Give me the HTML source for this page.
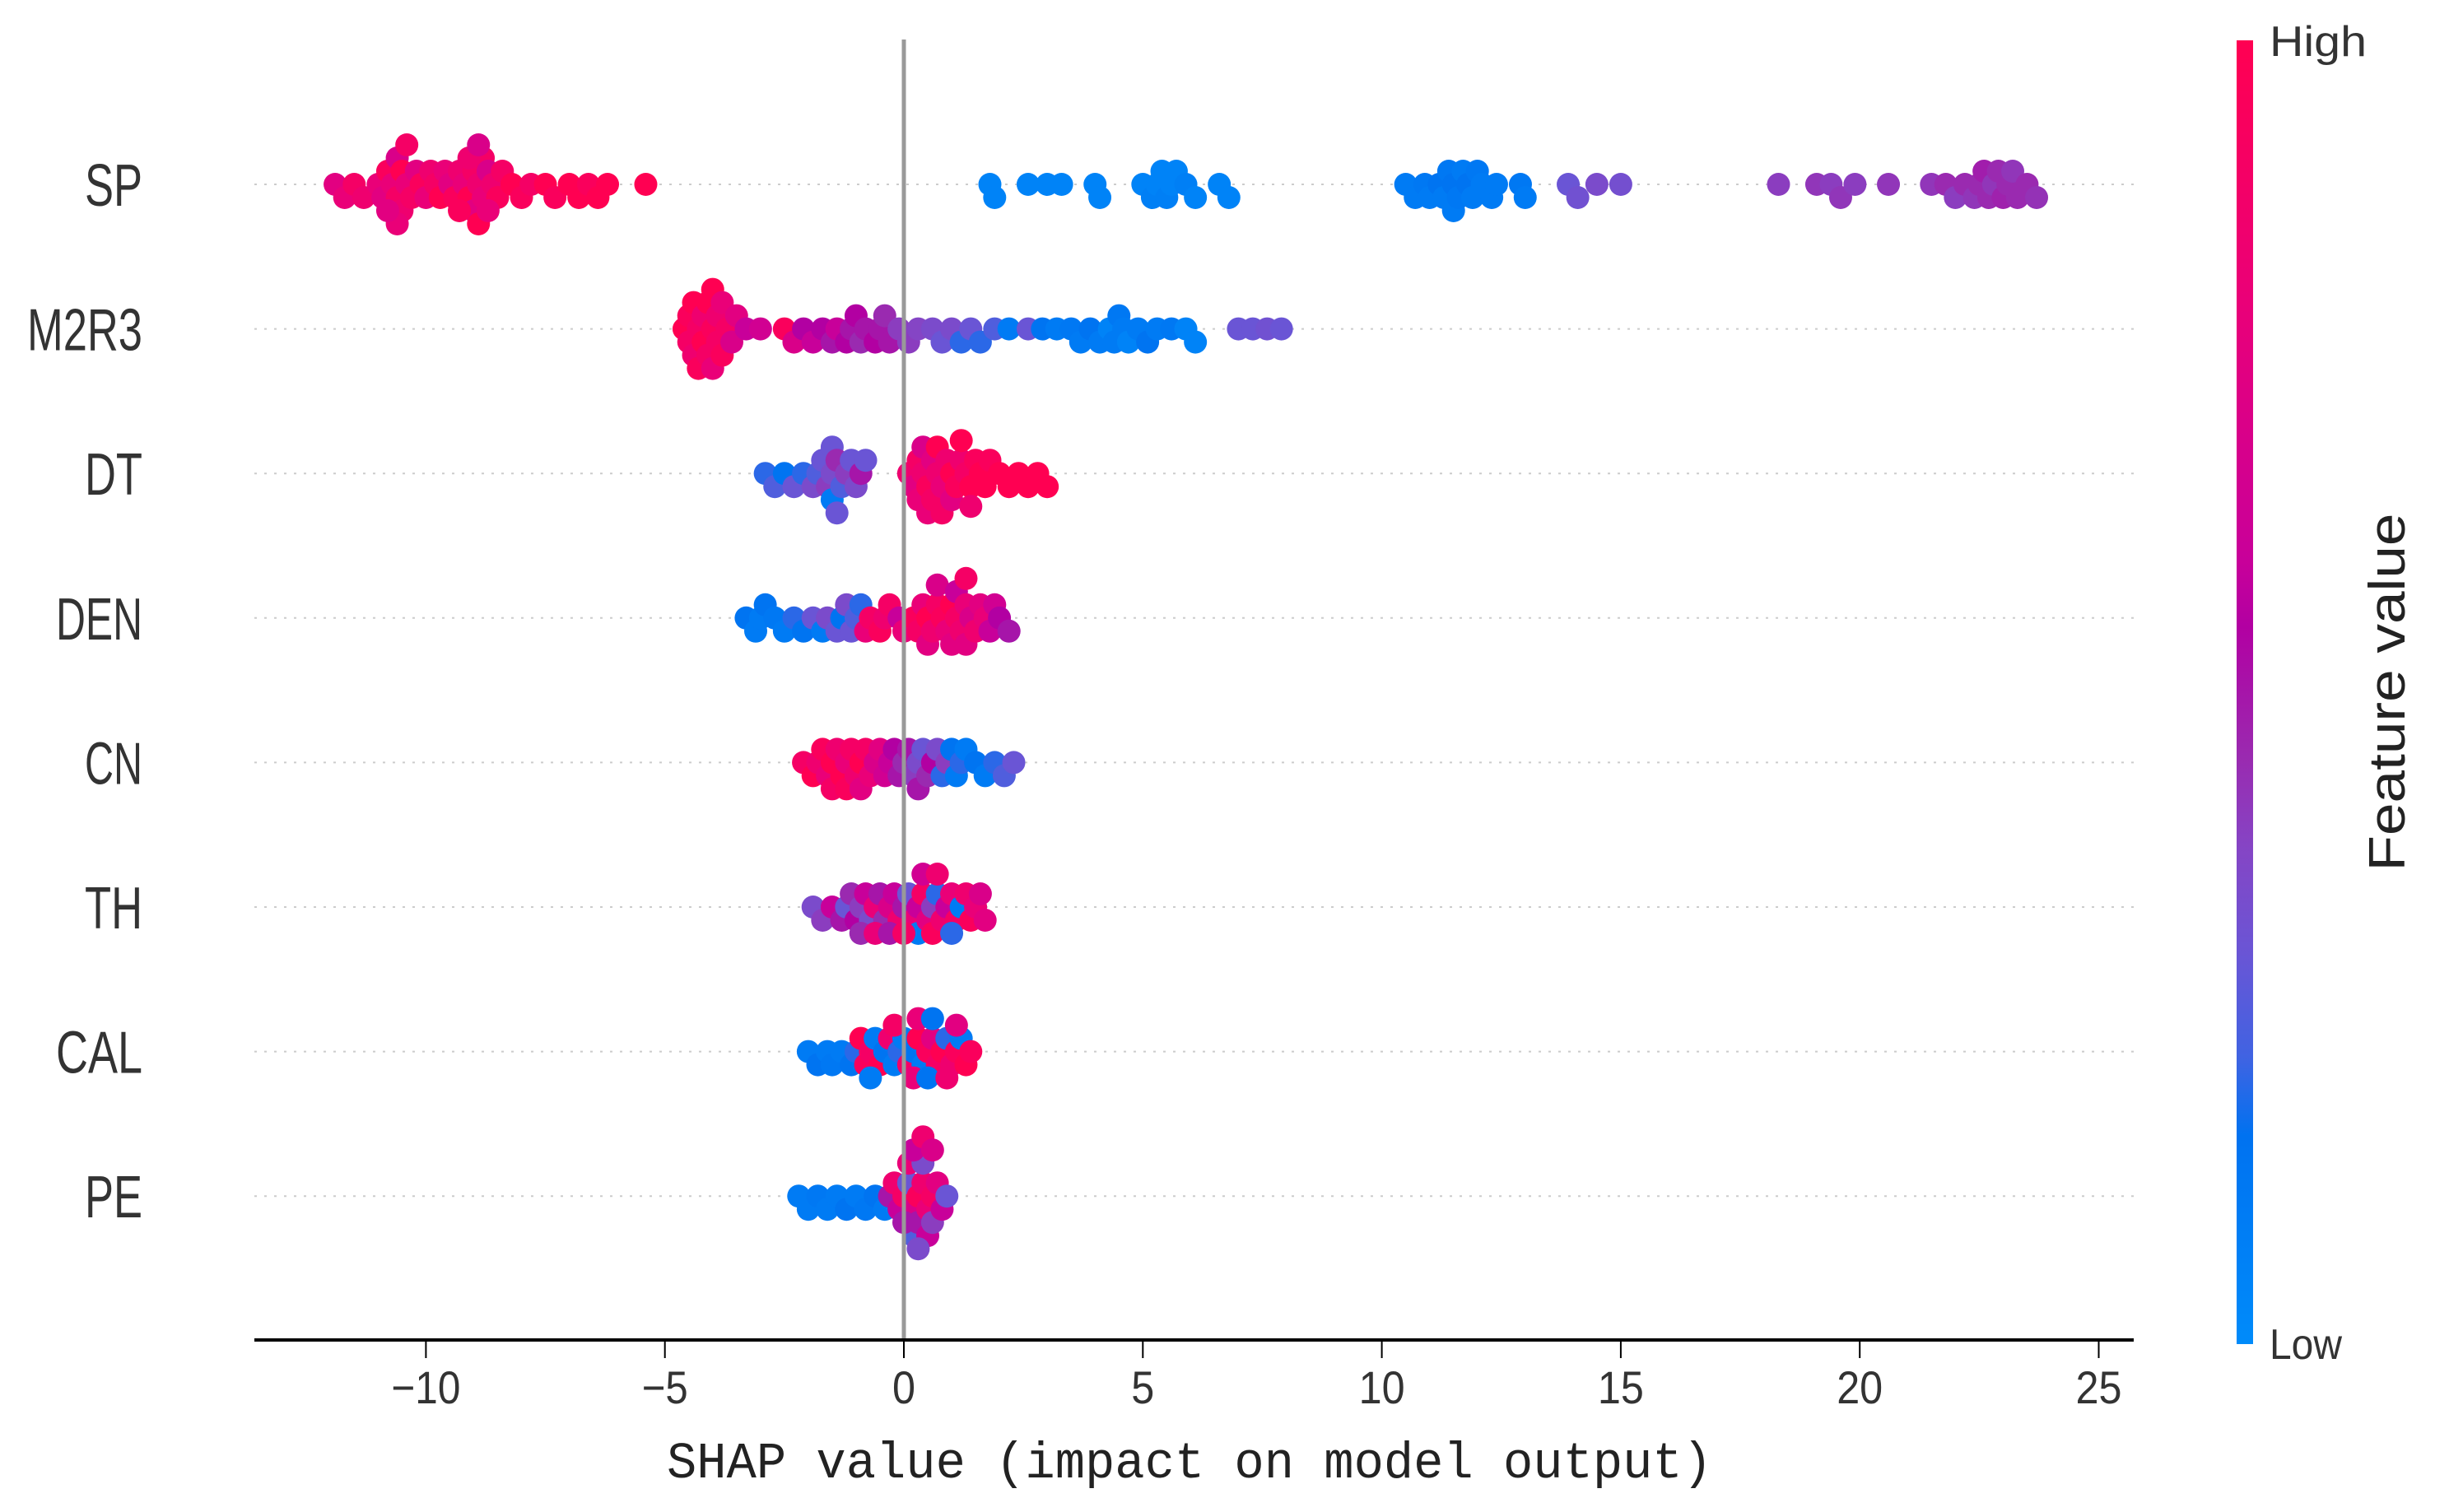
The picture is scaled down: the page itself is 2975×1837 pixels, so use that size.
<!DOCTYPE html>
<html><head><meta charset="utf-8"><style>
html,body{margin:0;padding:0;background:#fff;}
svg{display:block;}
</style></head><body>
<svg id="chart" width="2975" height="1837" viewBox="0 0 2975 1837" xmlns="http://www.w3.org/2000/svg">
<defs>
<linearGradient id="cbar" x1="0" y1="0" x2="0" y2="1">
<stop offset="0" stop-color="#ff0052"/><stop offset="0.2" stop-color="#ea0078"/><stop offset="0.4" stop-color="#c8009a"/><stop offset="0.45" stop-color="#b200a2"/><stop offset="0.55" stop-color="#9a2ab0"/><stop offset="0.62" stop-color="#8545c5"/><stop offset="0.7" stop-color="#6a55d5"/><stop offset="0.78" stop-color="#4063e2"/><stop offset="0.84" stop-color="#0072f0"/><stop offset="1" stop-color="#008bfa"/>
</linearGradient>
</defs>
<g id="grid"></g>
<g id="dots"></g>
<g id="axes"></g>
</svg>
<script>
const features = ["SP","M2R3","DT","DEN","CN","TH","CAL","PE"];
const xTicks = [-10,-5,0,5,10,15,20,25];

const spShap = [-11.9,-11.7,-11.5,-11.3,-11.0,-10.9,-10.8,-10.7,-10.6,-10.6,-10.5,-10.5,-10.4,-10.3,-10.2,-10.1,-10.0,-9.9,-9.8,-9.7,-9.6,-9.5,-9.4,-9.3,-9.2,-9.1,-9.0,-9.0,-8.9,-8.9,-8.8,-8.8,-8.7,-8.6,-8.5,-8.4,-8.2,-8.0,-7.8,-7.5,-7.3,-7.0,-6.8,-6.6,-6.4,-6.2,-5.4,
-10.6,-10.4,-10.8,-9.1,-8.9,-9.3,-8.7,
1.8,1.9,2.6,3.0,3.3,4.0,4.1,5.0,5.2,5.3,5.4,5.5,5.6,5.7,5.9,6.1,6.6,6.8,
10.5,10.7,10.9,11.0,11.2,11.3,11.4,11.5,11.5,11.6,11.7,11.8,11.9,12.0,12.1,12.3,12.4,12.9,13.0,
13.9,14.1,14.5,15.0,18.3,19.1,19.4,19.6,19.9,20.6,
21.5,21.8,22.0,22.2,22.4,22.5,22.6,22.7,22.8,22.9,23.0,23.1,23.2,23.3,23.5,23.7];
const spVal = [0.75,0.8,0.9,0.85,0.8,0.75,0.95,0.8,0.9,0.7,1.0,0.85,0.8,0.9,0.75,0.95,0.8,0.85,0.9,1.0,0.8,0.75,0.95,0.85,0.8,1.0,0.9,0.75,0.85,1.0,0.8,0.9,0.7,0.85,0.95,0.9,1.0,0.95,0.9,1.0,0.95,1.0,1.0,0.95,1.0,1.0,1.0,
0.8,0.9,0.75,0.85,0.7,0.95,0.8,
0.05,0.05,0.05,0.05,0.05,0.05,0.05,0.05,0.08,0.05,0.05,0.08,0.05,0.05,0.08,0.05,0.05,0.05,
0.1,0.1,0.12,0.1,0.15,0.1,0.12,0.15,0.1,0.12,0.1,0.15,0.1,0.12,0.1,0.1,0.1,0.12,0.1,
0.3,0.32,0.35,0.33,0.4,0.42,0.4,0.42,0.4,0.42,
0.42,0.45,0.4,0.45,0.42,0.45,0.48,0.45,0.42,0.45,0.47,0.45,0.42,0.45,0.45,0.43];

const m2r3Shap = [-4.6,-4.5,-4.5,-4.4,-4.4,-4.3,-4.3,-4.2,-4.2,-4.1,-4.1,-4.0,-4.0,-4.0,-3.9,-3.9,-3.8,-3.8,-3.7,-3.6,-3.5,-3.3,-3.0,
-2.5,-2.3,-2.1,-1.9,-1.7,-1.5,-1.4,-1.2,-1.1,-1.0,-0.9,-0.8,-0.6,-0.5,-0.4,-0.3,-0.1,0.1,0.3,0.6,0.8,1.0,1.2,1.4,1.6,1.9,2.2,2.6,2.9,
3.2,3.5,3.7,3.9,4.1,4.3,4.4,4.5,4.6,4.7,4.9,5.1,5.3,5.6,5.9,6.1,7.0,7.3,7.6,7.9];
const m2r3Val = [1.0,0.9,0.95,0.85,1.0,0.9,0.95,1.0,0.85,0.9,1.0,0.95,0.8,1.0,0.9,0.85,0.95,0.8,0.9,0.7,0.75,0.6,0.65,
0.95,0.7,0.55,0.6,0.55,0.5,0.6,0.55,0.5,0.55,0.45,0.5,0.55,0.5,0.45,0.5,0.4,0.4,0.38,0.35,0.3,0.35,0.2,0.3,0.2,0.25,0.1,0.3,0.15,
0.1,0.12,0.1,0.15,0.1,0.05,0.1,0.12,0.1,0.05,0.1,0.15,0.1,0.12,0.05,0.05,0.3,0.3,0.32,0.3];

const dtShap = [-2.9,-2.7,-2.5,-2.3,-2.1,-1.9,-1.8,-1.7,-1.6,-1.5,-1.5,-1.5,-1.4,-1.4,-1.3,-1.2,-1.1,-1.0,-0.9,-0.8,
0.1,0.2,0.3,0.3,0.4,0.4,0.5,0.5,0.6,0.6,0.7,0.7,0.8,0.8,0.9,1.0,1.0,1.1,1.2,1.2,1.3,1.4,1.4,1.5,1.6,1.7,1.8,2.0,2.2,2.4,2.6,2.8,3.0];
const dtVal = [0.2,0.25,0.15,0.3,0.2,0.35,0.25,0.3,0.4,0.35,0.1,0.3,0.45,0.3,0.25,0.4,0.3,0.35,0.5,0.3,
0.85,0.75,0.9,0.8,0.85,0.7,0.95,0.8,0.75,0.9,0.85,1.0,0.8,0.9,0.85,1.0,0.75,0.95,0.85,1.0,0.9,1.0,0.85,0.95,1.0,1.0,0.95,1.0,1.0,1.0,1.0,1.0,1.0];

const denShap = [-3.3,-3.1,-3.0,-2.9,-2.7,-2.5,-2.3,-2.1,-1.9,-1.7,-1.6,-1.4,-1.3,-1.2,-1.1,-1.0,-0.9,-0.8,-0.7,-0.5,-0.4,-0.3,-0.1,0.0,
0.2,0.3,0.4,0.5,0.5,0.6,0.7,0.7,0.8,0.9,1.0,1.0,1.1,1.1,1.2,1.3,1.3,1.3,1.4,1.5,1.6,1.7,1.8,1.9,2.0,2.2];
const denVal = [0.15,0.1,0.1,0.15,0.12,0.1,0.2,0.15,0.3,0.1,0.35,0.3,0.15,0.35,0.3,0.25,0.2,0.8,0.9,0.95,0.85,0.9,0.6,0.8,
0.95,0.9,0.8,1.0,0.75,0.85,0.9,0.7,0.95,0.8,1.0,0.75,0.9,0.6,0.85,0.8,0.75,0.9,0.7,0.85,0.75,0.8,0.6,0.65,0.55,0.5];

const cnShap = [-2.1,-1.9,-1.8,-1.7,-1.6,-1.5,-1.5,-1.4,-1.3,-1.2,-1.2,-1.1,-1.0,-0.9,-0.9,-0.8,-0.7,-0.6,-0.5,-0.4,-0.3,
-0.2,-0.1,0.0,0.1,0.2,0.3,0.3,0.4,0.5,0.6,0.7,0.8,0.9,
1.0,1.1,1.2,1.3,1.5,1.7,1.9,2.1,2.3];
const cnVal = [0.9,1.0,0.85,0.95,0.8,1.0,0.9,0.85,1.0,0.8,0.95,0.9,0.85,1.0,0.75,0.9,0.8,0.7,0.75,0.65,0.6,
0.55,0.5,0.45,0.5,0.4,0.35,0.5,0.3,0.45,0.55,0.35,0.2,0.4,
0.15,0.1,0.2,0.1,0.15,0.1,0.2,0.25,0.3];

const thShap = [-1.9,-1.7,-1.5,-1.3,-1.2,-1.1,-1.0,-0.9,-0.8,-0.7,-0.6,-0.5,-0.4,-0.3,-0.2,-0.1,0.0,0.1,0.2,0.3,0.3,0.4,0.5,0.6,0.6,0.7,0.8,0.9,1.0,1.1,1.2,1.3,1.4,1.5,1.6,1.7,
-0.9,-0.6,-0.3,0.0,0.4,0.7,1.0];
const thVal = [0.35,0.4,0.6,0.5,0.3,0.45,0.55,0.4,0.6,0.35,0.8,0.5,0.45,0.7,0.6,0.85,0.5,0.3,0.8,0.6,0.1,0.9,0.75,0.4,0.95,0.2,0.85,0.6,0.8,0.9,0.1,0.85,0.95,0.8,0.7,0.75,
0.45,0.8,0.5,0.9,0.65,0.85,0.2];

const calShap = [-2.0,-1.8,-1.6,-1.5,-1.3,-1.1,-1.0,-0.9,-0.8,-0.7,-0.6,-0.5,-0.4,-0.3,-0.2,-0.1,0.0,0.1,0.2,0.3,0.3,0.4,0.5,0.6,0.6,0.7,0.8,0.9,1.0,1.1,1.2,1.3,1.4,
-0.7,-0.2,0.2,0.5,0.9,1.1];
const calVal = [0.1,0.15,0.1,0.12,0.1,0.15,0.2,1.0,0.95,0.9,0.1,1.0,0.15,0.85,0.1,0.2,0.1,0.9,0.15,1.0,0.8,0.1,0.95,0.75,0.15,0.9,1.0,0.2,0.85,0.95,0.1,1.0,0.95,
0.1,0.9,0.8,0.15,0.85,0.75];

const peShap = [-2.2,-2.0,-1.8,-1.6,-1.4,-1.2,-1.0,-0.8,-0.6,-0.4,
-0.3,-0.2,-0.1,0.0,0.1,0.1,0.2,0.2,0.3,0.3,0.4,0.4,0.5,0.5,0.6,0.6,0.7,0.8,0.9,0.2,0.4,0.0,0.3,0.6];
const peVal = [0.1,0.1,0.12,0.1,0.1,0.15,0.1,0.12,0.15,0.1,
0.5,0.85,0.6,0.9,0.3,0.8,0.7,0.25,0.95,0.5,0.85,0.35,0.8,0.6,0.9,0.4,0.75,0.6,0.3,0.6,0.85,0.5,0.35,0.7];

const shapRows = [spShap,m2r3Shap,dtShap,denShap,cnShap,thShap,calShap,peShap];
const valRows = [spVal,m2r3Val,dtVal,denVal,cnVal,thVal,calVal,peVal];

const NS = "http://www.w3.org/2000/svg";
const X0 = 1098, PX = 58.06;
function xScale(v){ return X0 + v*PX; }
const ROW0 = 224, ROWSTEP = 175.6;
function yRow(i){ return ROW0 + i*ROWSTEP; }
const stops = [[0,[255,0,82]],[0.2,[234,0,120]],[0.4,[200,0,154]],[0.45,[178,0,162]],[0.55,[154,42,176]],[0.62,[133,69,197]],[0.7,[106,85,213]],[0.78,[64,99,226]],[0.84,[0,114,240]],[1,[0,139,250]]];
function colorOf(v){
  const t = 1 - Math.max(0, Math.min(1, v));
  for (let i=1;i<stops.length;i++){
    if (t <= stops[i][0]){
      const a = stops[i-1], b = stops[i];
      const f = (t - a[0])/(b[0]-a[0]);
      const c = a[1].map((c0,k)=>Math.round(c0 + (b[1][k]-c0)*f));
      return "rgb("+c.join(",")+")";
    }
  }
  return "rgb(0,139,250)";
}
function mk(tag, attrs, parent){
  const el = document.createElementNS(NS, tag);
  for (const k in attrs) el.setAttribute(k, attrs[k]);
  parent.appendChild(el);
  return el;
}
const grid = document.getElementById("grid");
const dots = document.getElementById("dots");
const axes = document.getElementById("axes");

features.forEach((f,i)=>{
  const y = yRow(i);
  const gl = mk("line",{x1:309,x2:2592,y1:y,y2:y,stroke:"#cccccc","stroke-width":2,"stroke-dasharray":"3,9"},grid);
  
  
  const t = mk("text",{x:173,y:y+26,"text-anchor":"end","font-family":"Liberation Sans, sans-serif","font-size":72,fill:"#333",textLength:f.length*35,lengthAdjust:"spacingAndGlyphs"},axes);
  t.textContent = f;
  
  
});

const R = 14, MIND = 17, STEP = 8, MAXOFF = 85;
shapRows.forEach((vals,i)=>{
  const yc = yRow(i);
  const cols = valRows[i];
  const order = vals.map((v,k)=>k).sort((a,b)=>vals[a]-vals[b]);
  const placed = [];
  const pos = [];
  order.forEach(k=>{
    const x = xScale(vals[k]);
    let off = 0;
    for (let n=0;n<40;n++){
      const cand = (n===0)?0:((n%2===1)?1:-1)*Math.ceil(n/2)*STEP;
      if (Math.abs(cand) > MAXOFF){ off = 0; break; }
      let ok = true;
      for (const p of placed){
        const dx = p[0]-x, dy = p[1]-cand;
        if (dx*dx+dy*dy < MIND*MIND){ ok=false; break; }
      }
      if (ok){ off = cand; break; }
    }
    placed.push([x,off]);
    pos[k] = [x, yc+off];
  });
  vals.forEach((v,k)=>{
    const c = mk("circle",{cx:pos[k][0],cy:pos[k][1],r:R,fill:colorOf(cols[k])},dots);
    
    
  });
});

const zl = mk("line",{x1:xScale(0),x2:xScale(0),y1:48,y2:1628,stroke:"#999999","stroke-width":5},axes);


const xa = mk("line",{x1:309,x2:2592,y1:1628,y2:1628,stroke:"#000","stroke-width":4},axes);


xTicks.forEach(v=>{
  const x = xScale(v);
  const tk = mk("line",{x1:x,x2:x,y1:1628,y2:1650,stroke:"#000","stroke-width":2},axes);
  
  
  const lbl = (v<0?"\u2212":"")+Math.abs(v);
  const t = mk("text",{x:x,y:1705,"text-anchor":"middle","font-family":"Liberation Sans, sans-serif","font-size":56,fill:"#333",textLength:lbl.length*28,lengthAdjust:"spacingAndGlyphs"},axes);
  t.textContent = lbl;
  
  
});
const xt = mk("text",{x:1445,y:1795,"text-anchor":"middle","font-family":"Liberation Mono, monospace","font-size":62,fill:"#222",textLength:1270,lengthAdjust:"spacingAndGlyphs"},axes);
xt.textContent = "SHAP value (impact on model output)";



const cb = mk("rect",{x:2717,y:49,width:20,height:1584,fill:"url(#cbar)"},axes);


const hi = mk("text",{x:2757,y:68,"font-family":"Liberation Sans, sans-serif","font-size":52,fill:"#333",textLength:118,lengthAdjust:"spacingAndGlyphs"},axes);
hi.textContent = "High";


const lo = mk("text",{x:2757,y:1651,"font-family":"Liberation Sans, sans-serif","font-size":52,fill:"#333",textLength:88,lengthAdjust:"spacingAndGlyphs"},axes);
lo.textContent = "Low";


const fv = mk("text",{x:0,y:0,"text-anchor":"middle","font-family":"Liberation Sans, sans-serif","font-size":62,fill:"#222",textLength:435,lengthAdjust:"spacingAndGlyphs",transform:"translate(2921,841) rotate(-90)"},axes);
fv.textContent = "Feature value";


</script>
</body></html>
